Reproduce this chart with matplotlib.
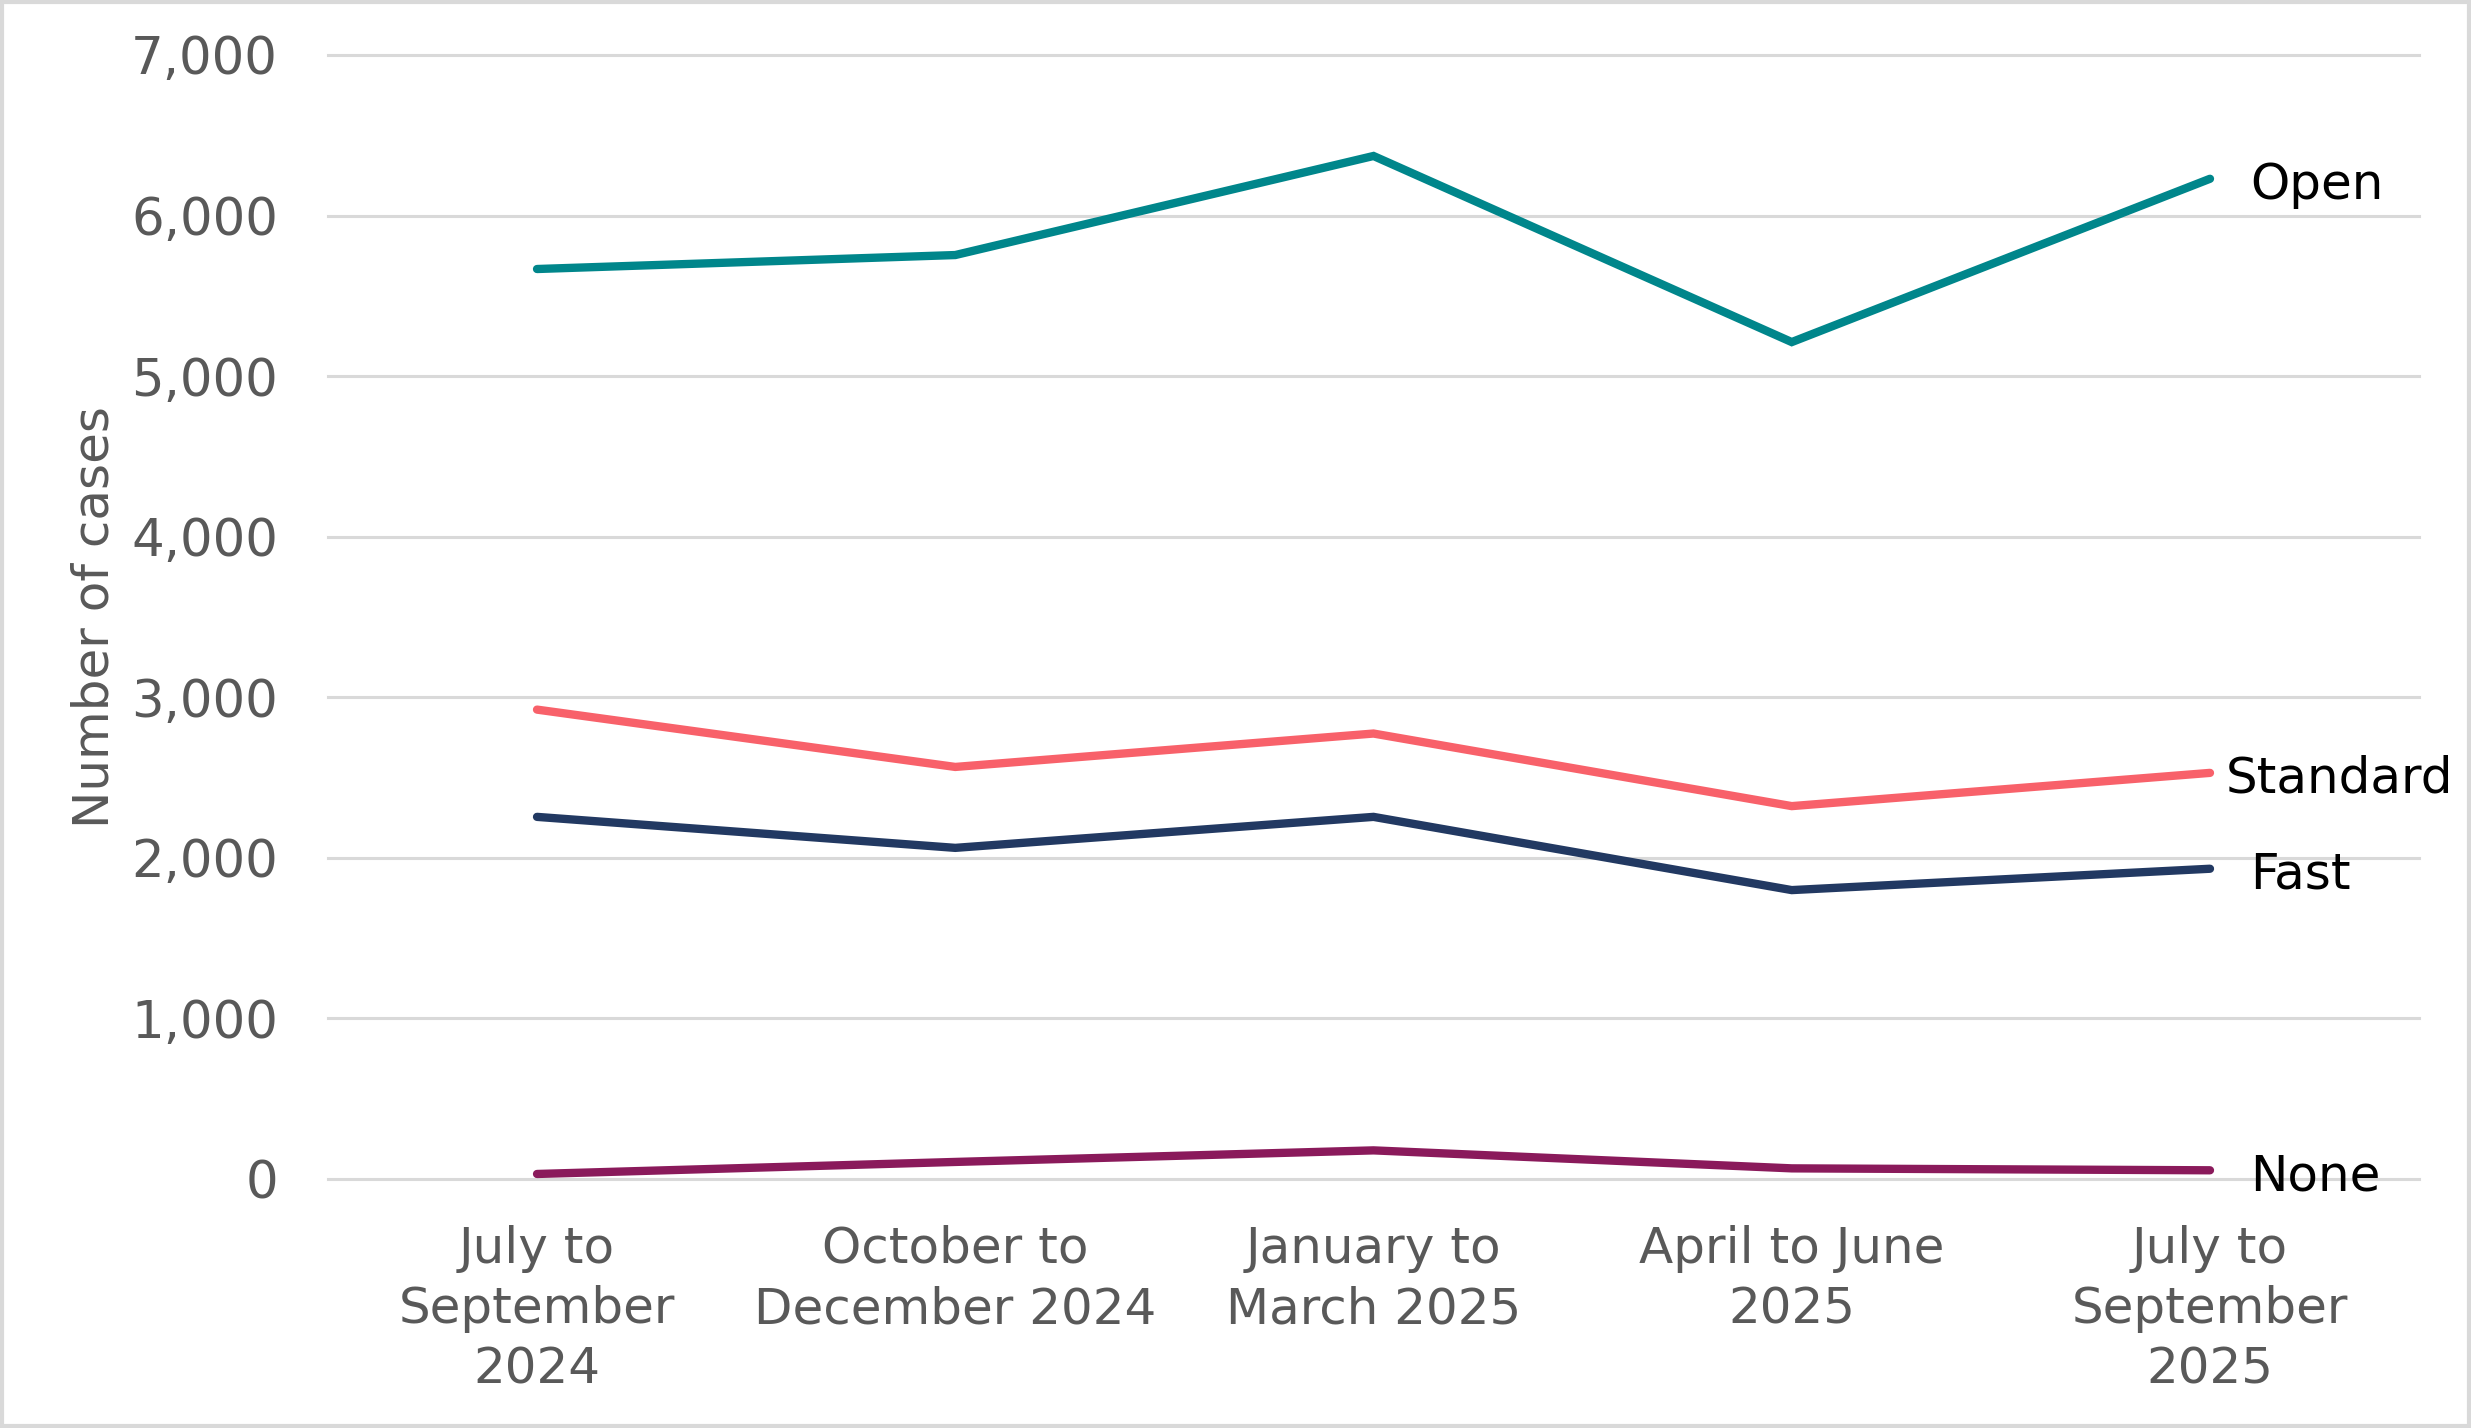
import matplotlib.pyplot as plt
from matplotlib.patches import Rectangle

# quarters on the x axis
quarters = ["July to\nSeptember\n2024", "October to\nDecember 2024",
            "January to\nMarch 2025", "April to June\n2025",
            "July to\nSeptember\n2025"]

# number of cases per track
open_cases = [5667, 5754, 6371, 5212, 6229]
standard_cases = [2923, 2566, 2774, 2322, 2529]
fast_cases = [2255, 2062, 2255, 1799, 1932]
none_cases = [31, 106, 178, 66, 54]

series_names = ["Open", "Standard", "Fast", "None"]
series_colors = ["#00868B", "#F8616A", "#223962", "#8A1A5B"]

yticks = [0, 1000, 2000, 3000, 4000, 5000, 6000, 7000]

plt.rcParams['font.family'] = ['DejaVu Sans']

fig = plt.figure(figsize=(24.71, 14.28), dpi=100)
ax = fig.add_axes([0.1327, 0.1744, 0.8463, 0.7871])

x = list(range(len(quarters)))
all_series = [open_cases, standard_cases, fast_cases, none_cases]
# label offsets (pixels) to the right of the last point
label_dx = [40, 16, 40, 40]

for name, vals, col, dx in zip(series_names, all_series, series_colors, label_dx):
    ax.plot(x, vals, color=col, lw=6, solid_capstyle='round',
            solid_joinstyle='miter', zorder=3)
    ax.annotate(name, xy=(x[-1], vals[-1]), xytext=(dx, -6),
                textcoords='offset pixels', va='center', ha='left',
                fontsize=36, color='black', annotation_clip=False)

ax.set_xlim(-0.5, 4.5)
ax.set_ylim(0, 7000)
ax.set_yticks(yticks)
ax.set_yticklabels([f"{v:,}" for v in yticks])
ax.set_xticks(x)
ax.set_xticklabels(quarters)

for v in yticks:
    ax.axhline(v, color='#d9d9d9', lw=2.2, zorder=1, clip_on=False)

for s in ax.spines.values():
    s.set_visible(False)

ax.tick_params(axis='y', length=0, pad=36, labelsize=37, labelcolor='#595959')
ax.tick_params(axis='x', length=0, pad=33, labelsize=36, labelcolor='#595959')
for lab in ax.get_xticklabels():
    lab.set_linespacing(1.33)

ax.set_ylabel("Number of cases", fontsize=36, color='#595959')
ax.yaxis.set_label_coords(-0.1, 0.5)

# outer frame
fig.patches.append(Rectangle((0.0008, 0.0012), 0.9984, 0.9976,
                             transform=fig.transFigure, fill=False,
                             edgecolor='#d9d9d9', lw=3))

fig.savefig("out.png", dpi=100)
